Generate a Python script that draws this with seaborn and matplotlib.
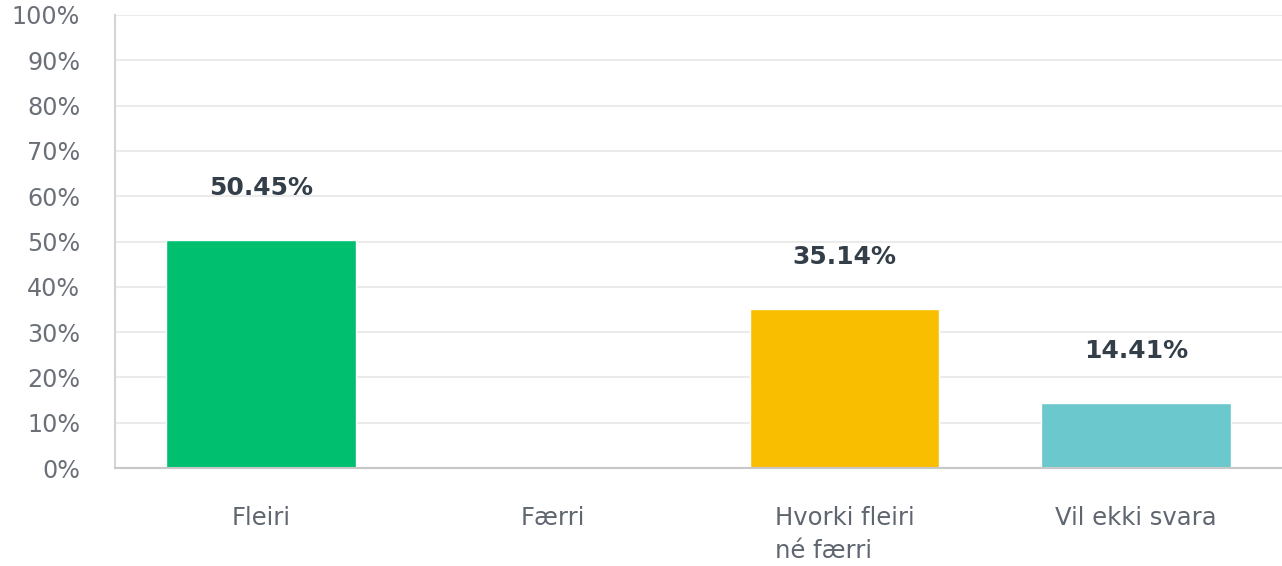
import matplotlib
matplotlib.use("Agg")
import matplotlib.pyplot as plt
import seaborn as sns
import pandas as pd
from matplotlib.ticker import PercentFormatter

# Survey answers
categories = ["Fleiri", "Færri", "Hvorki fleiri\nné færri", "Vil ekki svara"]
values = [50.45, 0.0, 35.14, 14.41]
colors = ["#00BF6F", "#B0B0B0", "#F9BE00", "#6BC8CD"]

df = pd.DataFrame({"Svar": categories, "Hlutfall": values})

sns.set_theme(style="white")
plt.rcParams["font.family"] = ["DejaVu Sans"]

fig = plt.figure(figsize=(12.82, 5.66), dpi=100)
ax = fig.add_axes([0.0897, 0.173, 0.9103, 0.8005])

sns.barplot(data=df, x="Svar", y="Hlutfall", hue="Svar", palette=colors,
            width=0.65, legend=False, ax=ax, saturation=1)

ax.set_ylim(0, 100)
ax.set_yticks(range(0, 101, 10))
ax.yaxis.set_major_formatter(PercentFormatter(decimals=0))
ax.grid(True, axis="y", color="#EBEBEB", linewidth=1.5)
ax.set_axisbelow(True)

for s in ["top", "right"]:
    ax.spines[s].set_visible(False)
ax.spines["left"].set_color("#D5D5D5")
ax.spines["left"].set_linewidth(1.5)
ax.spines["bottom"].set_color("#C8C8C8")
ax.spines["bottom"].set_linewidth(1.5)

ax.tick_params(axis="y", length=0, pad=25, labelsize=17.2, labelcolor="#6B7078")
ax.tick_params(axis="x", length=0, pad=27, labelsize=17.5, labelcolor="#5F6670")
for lbl in ax.get_xticklabels():
    lbl.set_multialignment("left")
    lbl.set_verticalalignment("top")
    lbl.set_linespacing(1.5)
ax.set_xlabel("")
ax.set_ylabel("")

# value labels above bars
for i, v in enumerate(values):
    if v > 0:
        ax.annotate(f"{v:.2f}%", xy=(i, v), xytext=(0, 37), textcoords="offset points",
                    ha="center", va="center", fontsize=18, fontweight="bold",
                    color="#333E48")

fig.savefig("out.png", dpi=100)
